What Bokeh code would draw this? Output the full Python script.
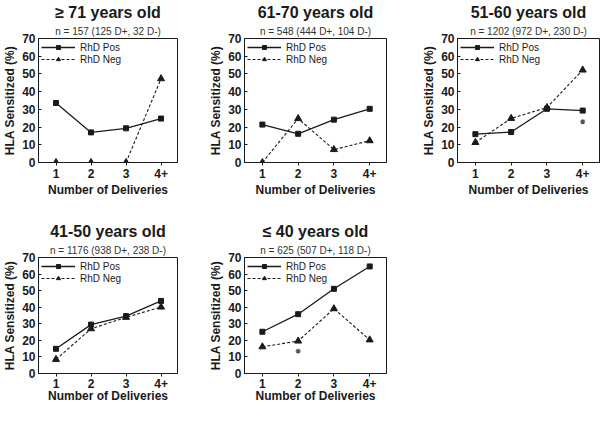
from bokeh.plotting import figure
from bokeh.layouts import row, column
from bokeh.models import Title, Legend, LegendItem, Range1d, FixedTicker
from bokeh.embed import file_html
from bokeh.resources import INLINE

# ---- data ----
x_pos = [1, 2, 3, 4]
tick_labels = ["1", "2", "3", "4+"]
y_ticks = [0, 10, 20, 30, 40, 50, 60, 70]

titles = ["≥ 71 years old", "61-70 years old", "51-60 years old",
          "41-50 years old", "≤ 40 years old"]
subtitles = ["n = 157 (125 D+, 32 D-)", "n = 548 (444 D+, 104 D-)",
             "n = 1202 (972 D+, 230 D-)", "n = 1176 (938 D+, 238 D-)",
             "n = 625 (507 D+, 118 D-)"]

pos_71 = [33.6, 17.0, 19.3, 24.8]
neg_71 = [0.0, 0.0, 0.0, 47.3]
pos_61 = [21.4, 16.2, 24.2, 30.3]
neg_61 = [0.0, 24.8, 7.3, 12.3]
pos_51 = [16.0, 17.2, 30.3, 29.3]
neg_51 = [11.3, 24.9, 31.0, 52.2]
pos_41 = [14.9, 29.5, 34.6, 43.8]
neg_41 = [8.5, 27.0, 33.9, 40.1]
pos_40 = [25.2, 35.8, 51.1, 64.6]
neg_40 = [16.1, 19.6, 39.1, 20.3]

star_51_x = [4]
star_51_y = [23.0]
star_40_x = [2]
star_40_y = [13.5]

pos_series = [pos_71, pos_61, pos_51, pos_41, pos_40]
neg_series = [neg_71, neg_61, neg_51, neg_41, neg_40]
stars = [None, None, (star_51_x, star_51_y), None, (star_40_x, star_40_y)]

FONT = "Liberation Sans"
INK = "#1a1a1a"


def make_panel(i, width, height, left, right, bottom, tl_standoff, al_standoff):
    p = figure(width=width, height=height, output_backend="svg",
               toolbar_location=None, title=None,
               x_range=Range1d(0.5, 4.47), y_range=Range1d(0, 70),
               min_border=0,
               min_border_left=left, min_border_right=right,
               min_border_top=0, min_border_bottom=bottom)
    p.background_fill_color = "white"
    p.border_fill_color = "white"
    p.outline_line_color = INK
    p.outline_line_width = 1
    p.xgrid.visible = False
    p.ygrid.visible = False

    sub = Title(text=subtitles[i], align="center", text_font=FONT,
                text_font_size="10px", text_font_style="normal",
                text_color="#333333", standoff=3, offset=0)
    main = Title(text=titles[i], align="center", text_font=FONT,
                 text_font_size="16px", text_font_style="bold",
                 text_color=INK, standoff=3, offset=0)
    p.add_layout(sub, "above")
    p.add_layout(main, "above")

    xa = p.xaxis[0]
    xa.ticker = FixedTicker(ticks=x_pos)
    xa.major_label_overrides = {x: t for x, t in zip(x_pos, tick_labels)}
    xa.axis_label = "Number of Deliveries"
    xa.minor_tick_line_color = None
    xa.major_tick_in = 0
    xa.major_tick_out = 3
    xa.major_label_standoff = tl_standoff
    xa.axis_label_standoff = al_standoff
    xa.major_label_text_line_height = 1.0
    xa.axis_label_text_line_height = 1.0

    ya = p.yaxis[0]
    ya.ticker = FixedTicker(ticks=y_ticks)
    ya.axis_label = "HLA Sensitized (%)"
    ya.minor_tick_line_color = None
    ya.major_tick_in = 3
    ya.major_tick_out = 0
    ya.major_label_standoff = 3
    ya.axis_label_standoff = 2

    for ax in (xa, ya):
        ax.axis_line_color = INK
        ax.major_tick_line_color = INK
        ax.major_label_text_font = FONT
        ax.major_label_text_font_size = "12px"
        ax.major_label_text_font_style = "bold"
        ax.major_label_text_color = INK
        ax.axis_label_text_font = FONT
        ax.axis_label_text_font_size = "12px"
        ax.axis_label_text_font_style = "bold"
        ax.axis_label_text_color = INK

    l1 = p.line(x_pos, pos_series[i], line_color=INK, line_width=1.3)
    s1 = p.scatter(x_pos, pos_series[i], marker="square", size=5,
                   fill_color=INK, line_color=INK)
    l2 = p.line(x_pos, neg_series[i], line_color=INK, line_width=1.1,
                line_dash="3 2")
    s2 = p.scatter(x_pos, neg_series[i], marker="triangle", size=7,
                   fill_color=INK, line_color=INK)

    if stars[i] is not None:
        sx, sy = stars[i]
        p.scatter(sx, sy, marker="asterisk", size=5, line_color="#555555",
                  line_width=1.2)

    legend = Legend(items=[LegendItem(label="RhD Pos", renderers=[l1, s1]),
                           LegendItem(label="RhD Neg", renderers=[l2, s2])],
                    location="top_left")
    legend.label_text_font = FONT
    legend.label_text_font_size = "10px"
    legend.label_text_color = INK
    legend.glyph_width = 34
    legend.glyph_height = 10
    legend.label_height = 12
    legend.label_standoff = 5
    legend.spacing = 0
    legend.padding = 0
    legend.margin = 3
    legend.border_line_color = None
    legend.background_fill_alpha = 0
    p.add_layout(legend)
    return p


H1, H2 = 219, 186
f1 = make_panel(0, 206, H1, 32, 29, 57, 3, 2)
f2 = make_panel(1, 213, H1, 34, 33, 57, 3, 2)
f3 = make_panel(2, 181, H1, 34, 1, 57, 3, 2)
f4 = make_panel(3, 206, H2, 32, 29, 0, 2, -2)
f5 = make_panel(4, 213, H2, 34, 33, 0, 2, -2)

layout = column(row(f1, f2, f3), row(f4, f5))

with open("out.html", "w") as fh:
    fh.write(file_html(layout, INLINE))
